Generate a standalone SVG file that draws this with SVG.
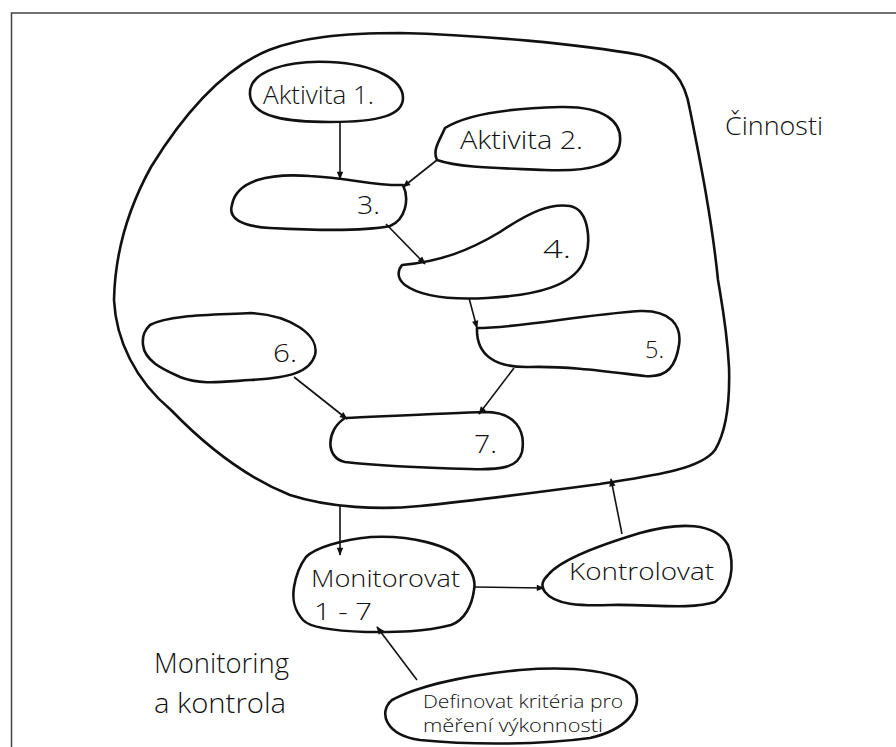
<svg xmlns="http://www.w3.org/2000/svg" width="896" height="747" viewBox="0 0 896 747">
<style>
.blob{fill:none;stroke:#111;stroke-width:2.6;stroke-linejoin:round}
.con{fill:none;stroke:#111;stroke-width:1.6}
.t{font-family:"Open Sans","Liberation Sans",sans-serif;font-weight:300;fill:#111}
</style>
<defs>
<marker id="ah" viewBox="0 0 10 10" refX="9" refY="5" markerWidth="10" markerHeight="8" orient="auto" markerUnits="userSpaceOnUse">
<path d="M0,1 L10,5 L0,9 Z" fill="#111"/>
</marker>
</defs>
<rect width="896" height="747" fill="#fff"/>
<rect x="11.5" y="13" width="900" height="800" fill="none" stroke="#444" stroke-width="1.5"/>

<g id="cinnosti">
<path class="blob" d="M114,300 C116,340 135,380 171,410 C200,440 240,475 290,495 C330,508 380,510 420,506 C480,500 540,492 600,484 C650,476 700,470 715,450 C727,430 730,400 729,367 C727,330 723,310 718,280 C712,220 700,160 690,110 C685,80 672,62 640,55 C580,44 480,35 400,33 C340,33 300,38 269,50 C220,70 180,120 151,167 C130,205 115,250 114,300 Z"/>
<text class="t" x="725" y="135" font-size="26" textLength="98" lengthAdjust="spacingAndGlyphs">Činnosti</text>
</g>
<g id="a1">
<path class="blob" d="M250,95 C248,70 290,60 330,62 C375,64 403,80 403,98 C403,115 380,122 330,122 C290,122 252,118 250,95 Z"/>
<text class="t" x="263" y="104" font-size="26" textLength="111" lengthAdjust="spacingAndGlyphs">Aktivita 1.</text>
</g>
<g id="a2">
<path class="blob" d="M445,128 C470,112 520,108 560,107 C605,106 622,122 620,142 C618,165 590,172 545,170 C500,168 460,168 437,160 C432,150 440,140 445,128 Z"/>
<text class="t" x="460" y="149" font-size="25" textLength="123" lengthAdjust="spacingAndGlyphs">Aktivita 2.</text>
</g>
<g id="n3">
<path class="blob" d="M232,205 C236,180 270,173 310,176 C350,178 375,186 403,185 C410,200 405,220 390,226 C360,232 310,230 270,228 C240,226 228,218 232,205 Z"/>
<text class="t" x="357" y="214" font-size="26" textLength="23" lengthAdjust="spacingAndGlyphs">3.</text>
</g>
<g id="n4">
<path class="blob" d="M402,265 C440,262 470,250 500,232 C530,212 550,203 570,206 C590,210 592,245 583,263 C572,285 540,295 487,298 C450,300 420,296 405,285 C396,278 398,270 402,265 Z"/>
<text class="t" x="543" y="258" font-size="26" textLength="28" lengthAdjust="spacingAndGlyphs">4.</text>
</g>
<g id="n5">
<path class="blob" d="M477,328 C520,328 580,315 640,311 C670,310 682,325 679,345 C676,365 668,378 645,376 C610,372 570,366 530,367 C495,368 476,355 477,328 Z"/>
<text class="t" x="645" y="358" font-size="24" textLength="19" lengthAdjust="spacingAndGlyphs">5.</text>
</g>
<g id="n6">
<path class="blob" d="M150,325 C170,314 220,315 251,313 C290,315 320,335 315,355 C310,372 290,378 250,380 C220,382 200,385 180,377 C165,370 145,362 143,345 C142,335 145,330 150,325 Z"/>
<text class="t" x="273" y="362" font-size="26" textLength="24" lengthAdjust="spacingAndGlyphs">6.</text>
</g>
<g id="n7">
<path class="blob" d="M345,418 C390,416 450,413 485,412 C515,412 526,430 522,452 C518,468 500,470 470,469 C430,468 380,466 345,462 C325,458 326,430 345,418 Z"/>
<text class="t" x="474" y="453" font-size="26" textLength="23" lengthAdjust="spacingAndGlyphs">7.</text>
</g>
<g id="monitorovat">
<path class="blob" d="M306,557 C315,548 340,540 371,537 C410,535 450,545 462,560 C472,570 476,580 474,590 C472,605 465,620 451,625 C420,633 390,632 366,632 C335,631 310,628 303,620 C294,610 292,600 294,587 C296,575 300,565 306,557 Z"/>
<text class="t" x="311" y="587" font-size="23" textLength="149" lengthAdjust="spacingAndGlyphs">Monitorovat</text>
<text class="t" x="314" y="620" font-size="24" textLength="58" lengthAdjust="spacingAndGlyphs">1 - 7</text>
</g>
<g id="kontrolovat">
<path class="blob" d="M548,575 C560,560 600,545 640,533 C680,522 715,522 728,545 C735,565 732,590 715,602 C690,610 650,604 610,605 C580,606 555,605 545,592 C540,585 543,580 548,575 Z"/>
<text class="t" x="569" y="580" font-size="24" textLength="145" lengthAdjust="spacingAndGlyphs">Kontrolovat</text>
</g>
<g id="definovat">
<path class="blob" d="M392,700 C420,685 470,675 520,670 C570,666 625,670 635,690 C643,710 625,730 590,738 C540,745 470,745 420,740 C385,735 378,712 392,700 Z"/>
<text class="t" x="423" y="708" font-size="19" textLength="200" lengthAdjust="spacingAndGlyphs">Definovat kritéria pro</text>
<text class="t" x="423" y="732" font-size="19" textLength="180" lengthAdjust="spacingAndGlyphs">měření výkonnosti</text>
</g>
<g id="monitoring-label">
<text class="t" x="154" y="673" font-size="27" textLength="135" lengthAdjust="spacingAndGlyphs">Monitoring</text>
<text class="t" x="154" y="713" font-size="27" textLength="132" lengthAdjust="spacingAndGlyphs">a kontrola</text>
</g>

<g id="connectors">
<path class="con" marker-end="url(#ah)" d="M340,122 L340,179"/>
<path class="con" marker-end="url(#ah)" d="M437,160 L403,187"/>
<path class="con" marker-end="url(#ah)" d="M386,224 L425,264"/>
<path class="con" marker-end="url(#ah)" d="M469,298 L477,328"/>
<path class="con" marker-end="url(#ah)" d="M514,368 L479,414"/>
<path class="con" marker-end="url(#ah)" d="M294,377 L347,419"/>
<path class="con" marker-end="url(#ah)" d="M340,505 L340,555"/>
<path class="con" marker-end="url(#ah)" d="M474,587 L544,588"/>
<path class="con" marker-end="url(#ah)" d="M622,534 L611,479"/>
<path class="con" marker-end="url(#ah)" d="M417,680 L377,627"/>
</g>
</svg>
